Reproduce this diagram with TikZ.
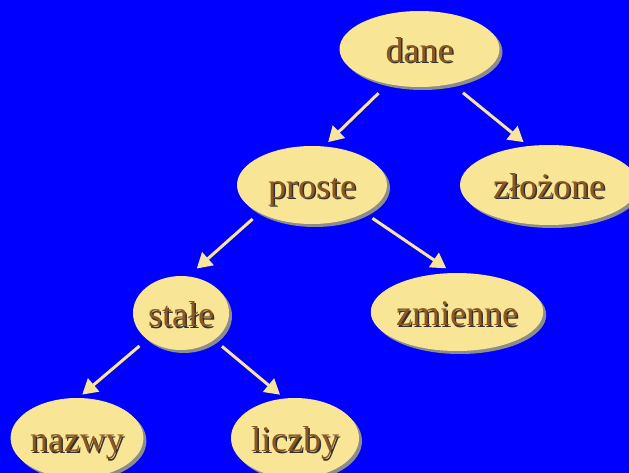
\documentclass[tikz,border=0pt]{standalone}
\usepackage{fontspec}
\setmainfont{Liberation Serif}
\usetikzlibrary{arrows.meta,shapes.geometric,shadows}
\definecolor{bgblue}{HTML}{0000FF}
\definecolor{nodefill}{HTML}{F9E596}
\definecolor{textbrown}{HTML}{8A5820}
\definecolor{arrowyellow}{HTML}{F8E49A}
% label text with a thin dark drop shadow
\newcommand{\shadowed}[1]{\rlap{\textcolor{black!80}{\kern1.5pt\raisebox{-1.5pt}{#1}}}\textcolor{textbrown}{#1}}
\tikzset{
  ellnode/.style={ellipse, fill=nodefill, inner sep=0pt,
    text height=30pt, text depth=3pt,
    drop shadow={shadow xshift=3pt, shadow yshift=-3pt, fill=black!45, opacity=1},
    font=\fontsize{36}{40}\selectfont},
  arr/.style={draw=arrowyellow, line width=3pt,
    -{Triangle[length=15pt,width=17pt]}}
}
\begin{document}
\begin{tikzpicture}[x=1pt,y=-1pt]
  \useasboundingbox (0,0) rectangle (629,473);
  \clip (0,0) rectangle (629,473);
  \fill[bgblue] (0,0) rectangle (629,473);

  \node[ellnode, minimum width=160pt, minimum height=76pt] (dane) at (419.5,49) {\shadowed{dane}};
  \node[ellnode, minimum width=150pt, minimum height=78pt] (proste) at (312,185) {\shadowed{proste}};
  \node[ellnode, minimum width=178pt, minimum height=80pt] (zlozone) at (549,185) {\shadowed{złożone}};
  \node[ellnode, minimum width=96pt, minimum height=74pt] (stale) at (181,313) {\shadowed{stałe}};
  \node[ellnode, minimum width=154pt, minimum height=78pt] (zmienne) at (457,312) {\shadowed{zmienne}};
  \node[ellnode, minimum width=128pt, minimum height=80pt] (nazwy) at (77,438) {\shadowed{nazwy}};
  \node[ellnode, minimum width=128pt, minimum height=80pt] (liczby) at (295,438) {\shadowed{liczby}};

  \draw[arr, shorten <=13pt, shorten >=6pt] (dane.228.7) -- (proste.73.5);
  \draw[arr, shorten <=14pt, shorten >=6pt] (dane.313.4) -- (zlozone.118.6);
  \draw[arr, shorten <=9pt, shorten >=11.5pt] (proste.208.1) -- (stale.79.4);
  \draw[arr, shorten <=9.5pt, shorten >=8pt] (proste.332.3) -- (zmienne.96.1);
  \draw[arr, shorten <=10pt, shorten >=5pt] (stale.218.8) -- (nazwy.88.7);
  \draw[arr, shorten <=10pt, shorten >=5.7pt] (stale.321.2) -- (liczby.105.6);
\end{tikzpicture}
\end{document}
